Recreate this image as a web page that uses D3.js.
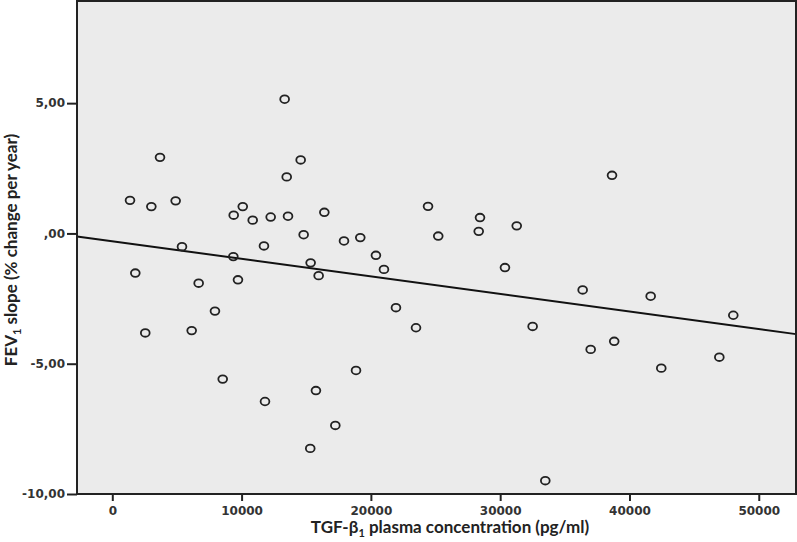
<!DOCTYPE html>
<html>
<head>
<meta charset="utf-8">
<script src="https://cdn.jsdelivr.net/npm/d3@7"></script>
<style>
  body { margin: 0; background: #fff; }
  .tick text { font-family: "DejaVu Sans"; font-weight: bold; font-size: 12px; fill: #333; }
  .tick line { stroke: #222; stroke-width: 2; }
  .title { font-family: Lato; font-weight: bold; font-size: 17px; fill: #222; }
</style>
</head>
<body>
<div id="chart"></div>
<script>
// TGF-beta1 plasma concentration (pg/ml), one entry per patient
var tgf = [1370, 1780, 2550, 3020, 3690, 4900, 5390, 6140, 6680, 7940,
  8540, 9390, 9360, 9720, 10090, 10860, 11730, 11810, 12250, 13330,
  13490, 13590, 14570, 14800, 15340, 15310, 15750, 15960, 16400, 17250,
  17920, 18850, 19180, 20390, 21010, 21940, 23490, 24420, 25210, 28340,
  28440, 30370, 31280, 32510, 33490, 36380, 37000, 38650, 38820, 41640,
  42460, 46950, 48030];
// FEV1 slope (% change per year), same order
var fev = [1.27, -1.52, -3.82, 1.03, 2.92, 1.25, -0.51, -3.73, -1.91, -2.98,
  -5.59, 0.70, -0.89, -1.78, 1.03, 0.51, -0.48, -6.45, 0.63, 5.15,
  2.17, 0.66, 2.82, -0.05, -1.13, -8.25, -6.03, -1.62, 0.81, -7.37,
  -0.29, -5.26, -0.16, -0.84, -1.38, -2.85, -3.62, 1.04, -0.10, 0.08,
  0.61, -1.31, 0.29, -3.57, -9.49, -2.17, -4.45, 2.23, -4.14, -2.41,
  -5.17, -4.75, -3.14];

var xTicks = [0, 10000, 20000, 30000, 40000, 50000];
var yTicks = [5, 0, -5, -10];
var yTickLabels = ["5,00", ",00", "-5,00", "-10,00"];

// linear fit line
var fitIntercept = -0.30;
var fitSlope = -0.0000674;

var width = 797, height = 542;
var margin = {top: 1, right: 1, bottom: 48, left: 77};

var svg = d3.select("#chart").append("svg")
    .attr("width", width)
    .attr("height", height);

var x = d3.scaleLinear()
    .domain([-2730, 52880])
    .range([margin.left, width - margin.right]);

var y = d3.scaleLinear()
    .domain([-10, 8.92])
    .range([height - margin.bottom, margin.top]);

// plot background
svg.append("rect")
    .attr("x", margin.left)
    .attr("y", margin.top)
    .attr("width", width - margin.right - margin.left)
    .attr("height", height - margin.bottom - margin.top)
    .attr("fill", "#ebebeb");

// axes
svg.append("g")
    .attr("transform", "translate(0," + (height - margin.bottom) + ")")
    .call(d3.axisBottom(x).tickValues(xTicks).tickSize(7).tickPadding(5)
      .tickFormat(function(d) { return d; }))
    .call(function(g) { g.select(".domain").remove(); });

svg.append("g")
    .attr("transform", "translate(" + margin.left + ",0)")
    .call(d3.axisLeft(y).tickValues(yTicks).tickSize(10).tickPadding(2)
      .tickFormat(function(d, i) { return yTickLabels[i]; }))
    .call(function(g) { g.select(".domain").remove(); });

// fit line
var xd = x.domain();
svg.append("line")
    .attr("x1", x(xd[0]))
    .attr("y1", y(fitIntercept + fitSlope * xd[0]))
    .attr("x2", x(xd[1]))
    .attr("y2", y(fitIntercept + fitSlope * xd[1]))
    .attr("stroke", "#111")
    .attr("stroke-width", 2);

// points
svg.append("g")
  .selectAll("ellipse")
    .data(tgf)
  .enter().append("ellipse")
    .attr("cx", function(d) { return x(d); })
    .attr("cy", function(d, i) { return y(fev[i]); })
    .attr("rx", 4.4)
    .attr("ry", 3.8)
    .attr("fill", "none")
    .attr("stroke", "#222")
    .attr("stroke-width", 1.8);

// frame
svg.append("rect")
    .attr("x", margin.left)
    .attr("y", margin.top)
    .attr("width", width - margin.right - margin.left)
    .attr("height", height - margin.bottom - margin.top)
    .attr("fill", "none")
    .attr("stroke", "#222")
    .attr("stroke-width", 2);

// axis titles
var xt = svg.append("text")
    .attr("class", "title")
    .attr("x", 450)
    .attr("y", 533)
    .attr("font-size", "18px")
    .attr("text-anchor", "middle");
xt.append("tspan").text("TGF-β");
xt.append("tspan").attr("font-size", "11px").attr("dy", 4).text("1");
xt.append("tspan").attr("dy", -4).text(" plasma concentration (pg/ml)");

var yt = svg.append("text")
    .attr("class", "title")
    .attr("transform", "translate(17,250) rotate(-90)")
    .attr("text-anchor", "middle");
yt.append("tspan").text("FEV");
yt.append("tspan").attr("font-size", "11px").attr("dy", 4).text("1");
yt.append("tspan").attr("dy", -4).text(" slope (% change per year)");
</script>
</body>
</html>
